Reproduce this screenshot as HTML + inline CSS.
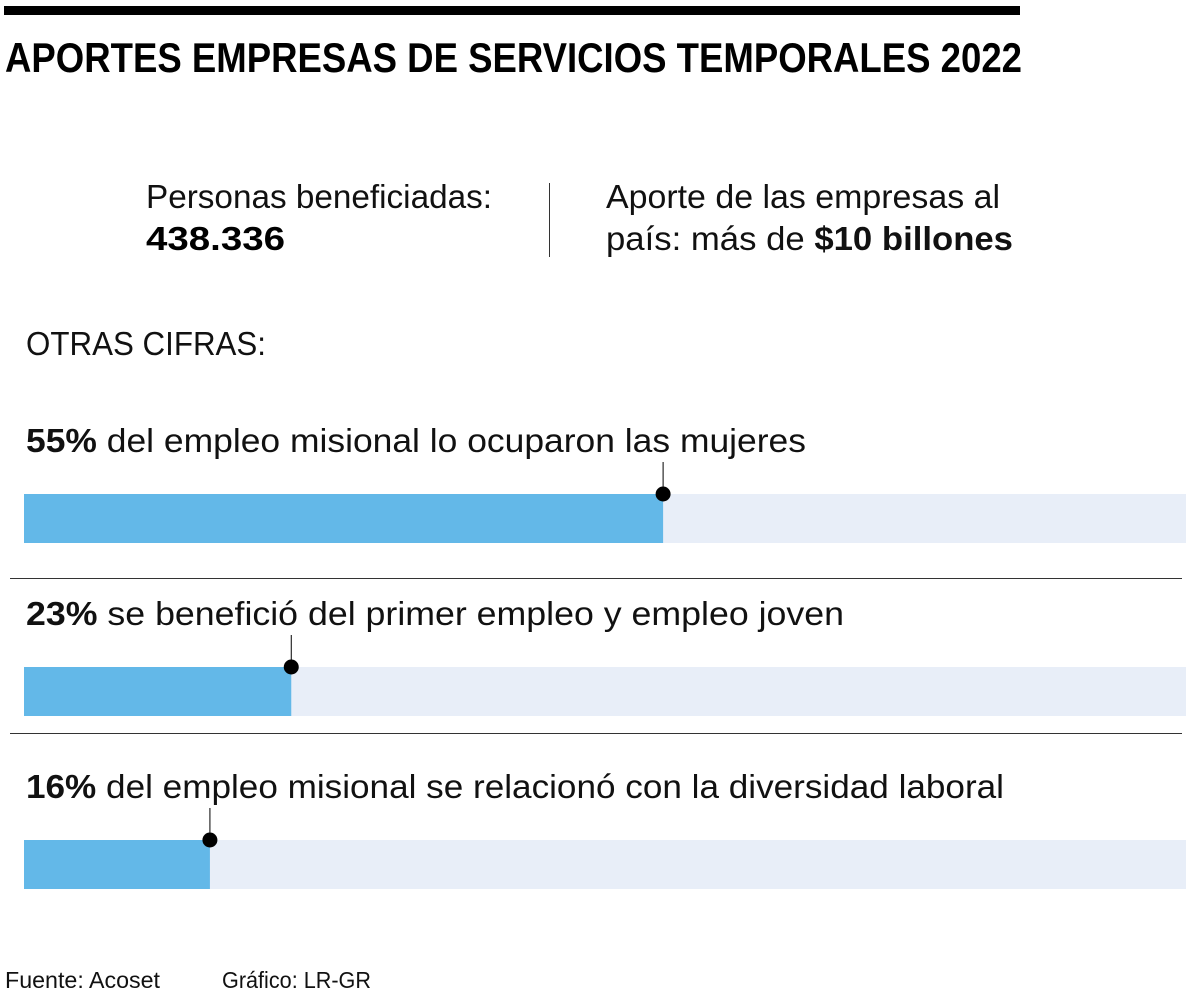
<!DOCTYPE html>
<html><head><meta charset="utf-8"><style>
html,body{margin:0;padding:0;background:#fff;}
svg{display:block;font-family:"Liberation Sans",sans-serif;}
</style></head><body>
<svg width="1200" height="1001" viewBox="0 0 1200 1001">
<rect x="4" y="6" width="1016" height="9" fill="#000"/>
<text x="5" y="72" font-size="42" font-weight="bold" textLength="1017" lengthAdjust="spacingAndGlyphs">APORTES EMPRESAS DE SERVICIOS TEMPORALES 2022</text>
<text x="146" y="208" font-size="33" fill="#111" textLength="346" lengthAdjust="spacingAndGlyphs">Personas beneficiadas:</text>
<text x="146" y="250" font-size="33" font-weight="bold" textLength="139" lengthAdjust="spacingAndGlyphs">438.336</text>
<line x1="549.5" y1="183" x2="549.5" y2="257" stroke="#333" stroke-width="1"/>
<text x="606" y="208" font-size="33" fill="#111" textLength="394" lengthAdjust="spacingAndGlyphs">Aporte de las empresas al</text>
<text x="606" y="250" font-size="33" fill="#111" textLength="407" lengthAdjust="spacingAndGlyphs">país: más de <tspan font-weight="bold">$10 billones</tspan></text>
<text x="26" y="355" font-size="33" fill="#111" textLength="240" lengthAdjust="spacingAndGlyphs">OTRAS CIFRAS:</text>
<g id="bars"></g>
<line x1="10" y1="578.5" x2="1182" y2="578.5" stroke="#333" stroke-width="1"/>
<line x1="10" y1="733.5" x2="1182" y2="733.5" stroke="#333" stroke-width="1"/>
<text x="5" y="988" font-size="23" fill="#111" textLength="155" lengthAdjust="spacingAndGlyphs">Fuente: Acoset</text>
<text x="222" y="988" font-size="23" fill="#111" textLength="149" lengthAdjust="spacingAndGlyphs">Gráfico: LR-GR</text>
</svg>
<script>
const values = [55, 23, 16];
const pctLabels = ["55%", "23%", "16%"];
const descriptions = [" del empleo misional lo ocuparon las mujeres", " se benefició del primer empleo y empleo joven", " del empleo misional se relacionó con la diversidad laboral"];
const textWidths = [780, 818, 978];
const x0 = 24, x1 = 1186;
function xScale(v){ return x0 + (x1 - x0) * v / 100; }
const ns = "http://www.w3.org/2000/svg";
const g = document.getElementById("bars");
function mk(tag, attrs){ const e = document.createElementNS(ns, tag); for (const k in attrs) e.setAttribute(k, attrs[k]); g.appendChild(e); return e; }
values.forEach((v, i) => {
  const top = 494 + i * 173;
  const base = 452 + i * 173;
  const t = mk("text", {x: 26, y: base, "font-size": 33, fill: "#111", textLength: textWidths[i], lengthAdjust: "spacingAndGlyphs"});
  
  
  const b = document.createElementNS(ns, "tspan"); b.setAttribute("font-weight", "bold"); b.textContent = pctLabels[i]; t.appendChild(b);
  t.appendChild(document.createTextNode(descriptions[i]));
  const tr = mk("rect", {x: x0, y: top, width: x1 - x0, height: 49, fill: "#e8eef8"});
  
  
  const br = mk("rect", {x: x0, y: top, width: xScale(v) - x0, height: 49, fill: "#63b8e8"});
  
  
  const ln = mk("line", {x1: xScale(v), y1: top - 32, x2: xScale(v), y2: top, stroke: "#000", "stroke-width": 1});
  
  
  const c = mk("circle", {cx: xScale(v), cy: top, r: 7.5, fill: "#000"});
  
  
});
</script>
</body></html>
